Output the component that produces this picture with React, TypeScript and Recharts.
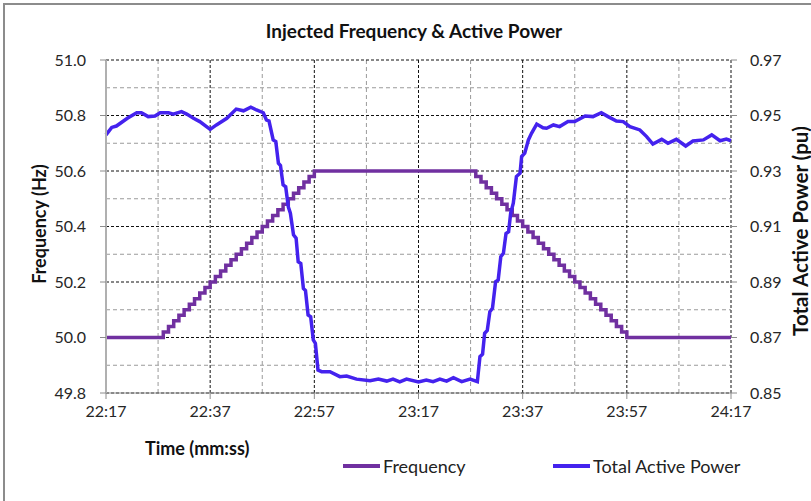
import { CartesianGrid, Line, LineChart, XAxis, YAxis } from "recharts";

// seconds after 22:17
const xTicks = [0, 20, 40, 60, 80, 100, 120];
const xTickLabels = ["22:17", "22:37", "22:57", "23:17", "23:37", "23:57", "24:17"];
const xMinor = [10, 30, 50, 70, 90, 110];

const freqTicks = [49.8, 50.0, 50.2, 50.4, 50.6, 50.8, 51.0];
const freqMinor = [49.9, 50.1, 50.3, 50.5, 50.7, 50.9];
const powerTicks = [0.85, 0.87, 0.89, 0.91, 0.93, 0.95, 0.97];

// injected frequency, one value per second from 22:17
const frequency = [
  50.0, 50.0, 50.0, 50.0, 50.0, 50.0, 50.0, 50.0, 50.0, 50.0, 50.0,
  50.02, 50.04, 50.06, 50.08, 50.1, 50.12, 50.14, 50.16, 50.18, 50.2,
  50.22, 50.24, 50.26, 50.28, 50.3, 50.32, 50.34, 50.36, 50.38, 50.4,
  50.42, 50.44, 50.46, 50.48, 50.5, 50.52, 50.54, 50.56, 50.58, 50.6,
  50.6, 50.6, 50.6, 50.6, 50.6, 50.6, 50.6, 50.6, 50.6, 50.6,
  50.6, 50.6, 50.6, 50.6, 50.6, 50.6, 50.6, 50.6, 50.6, 50.6,
  50.6, 50.6, 50.6, 50.6, 50.6, 50.6, 50.6, 50.6, 50.6, 50.6,
  50.58, 50.56, 50.54, 50.52, 50.5, 50.48, 50.46, 50.44, 50.42, 50.4,
  50.38, 50.36, 50.34, 50.32, 50.3, 50.28, 50.26, 50.24, 50.22, 50.2,
  50.18, 50.16, 50.14, 50.12, 50.1, 50.08, 50.06, 50.04, 50.02, 50.0,
  50.0, 50.0, 50.0, 50.0, 50.0, 50.0, 50.0, 50.0, 50.0, 50.0,
  50.0, 50.0, 50.0, 50.0, 50.0, 50.0, 50.0, 50.0, 50.0, 50.0,
];

const powerTime = [
  0, 1.1, 2, 4.1, 5.9, 6.8, 8.1, 9.4, 10.4, 12, 12.9, 14.5, 15.5, 16.8, 18, 20,
  21.2, 23.2, 25, 26.4, 27.8, 28.9, 30.2, 30.8, 31.3, 32.1, 32.6, 33.1, 33.5, 34,
  34.5, 35, 35.4, 36, 36.5, 36.9, 37.4, 37.9, 38.3, 38.8, 39.3, 39.8, 40.2, 40.7,
  41.4, 43, 44.9, 46.2, 48.1, 50.7, 52.3, 53.9, 55.1, 56.4, 57.7, 60, 61.5, 62.8,
  64.1, 65.4, 66.7, 68.3, 69.9, 71.3, 71.8, 72.3, 72.7, 73.2, 73.7, 74.2, 74.8,
  75.3, 75.8, 76.3, 76.8, 77.3, 77.7, 78.2, 78.8, 79.5, 79.8, 80.4, 81.1, 81.7,
  82.7, 83.9, 84.6, 85.9, 87.1, 88.7, 90, 92, 93.5, 95.1, 96.4, 98, 99.3, 100.6,
  102.5, 103.8, 105, 106.7, 107.9, 109.5, 111.3, 112.7, 114.7, 116.3, 117.9, 119.1, 120,
];
const powerValue = [
  0.943, 0.9457, 0.9462, 0.949, 0.951, 0.951, 0.9496, 0.9498, 0.951, 0.951, 0.9505,
  0.9514, 0.9505, 0.949, 0.9478, 0.945, 0.9466, 0.949, 0.9523, 0.9517, 0.953, 0.952,
  0.951, 0.9484, 0.948, 0.9412, 0.9406, 0.9328, 0.932, 0.925, 0.9243, 0.9171, 0.9148,
  0.907, 0.9058, 0.8973, 0.8967, 0.8877, 0.8869, 0.8781, 0.8775, 0.8691, 0.8679, 0.8583,
  0.8577, 0.8577, 0.8559, 0.8561, 0.855, 0.8544, 0.855, 0.8543, 0.855, 0.854, 0.855,
  0.854, 0.8547, 0.8541, 0.855, 0.8543, 0.8555, 0.8541, 0.855, 0.8541, 0.8631, 0.864,
  0.8715, 0.8725, 0.8793, 0.8805, 0.8901, 0.8907, 0.8991, 0.9003, 0.9075, 0.9081,
  0.9148, 0.9184, 0.928, 0.9292, 0.9352, 0.9364, 0.9412, 0.9436, 0.9469, 0.9456,
  0.9454, 0.9466, 0.946, 0.9478, 0.9478, 0.9498, 0.9496, 0.951, 0.9496, 0.948, 0.9478,
  0.946, 0.9448, 0.9424, 0.9397, 0.9414, 0.94, 0.9414, 0.939, 0.9408, 0.9412, 0.943,
  0.9409, 0.9415, 0.9409,
];

const FREQ_COLOR = "#7030a0";
const POWER_COLOR = "#4422ee";
const FONT = "Lato, 'Open Sans', sans-serif";

const freqData = frequency.map((f, i) => ({ t: i, f }));
const powerData = powerTime.map((t, i) => ({ t, p: powerValue[i] }));

const tickStyle = { fontFamily: FONT, fontSize: 16, fill: "#262626" };

export default function App() {
  return (
    <div style={{ position: "fixed", left: 0, top: 0, width: 811, height: 501, background: "#fff", overflow: "hidden", fontFamily: FONT }}>
      <div style={{ position: "absolute", left: 3, top: 3, width: 840, height: 540, border: "2px solid #8c8c8c" }} />
      <div style={{ position: "absolute", left: 0, width: 828, top: 19, textAlign: "center", fontWeight: 700, fontSize: 19, color: "#111" }}>
        Injected Frequency &amp; Active Power
      </div>
      <LineChart width={811} height={501} margin={{ top: 60, right: 0, bottom: 68, left: 0 }} style={{ position: "absolute", left: 0, top: 0 }}>
        <CartesianGrid horizontalValues={freqMinor} verticalValues={xMinor} stroke="#9a9a9a" strokeDasharray="4 3" />
        <CartesianGrid horizontalValues={freqTicks} verticalValues={xTicks} stroke="#111" strokeDasharray="3 2" />
        <XAxis
          dataKey="t"
          type="number"
          domain={[0, 120]}
          ticks={xTicks}
          tickFormatter={(v) => xTickLabels[xTicks.indexOf(v)] ?? ""}
          height={40}
          tick={tickStyle}
          tickSize={6}
          tickMargin={7}
          stroke="#8c8c8c"
          allowDuplicatedCategory={false}
        />
        <YAxis
          type="number"
          domain={[49.8, 51.0]}
          ticks={freqTicks}
          tickFormatter={(v) => v.toFixed(1)}
          width={106}
          tick={tickStyle}
          tickSize={6}
          tickMargin={14}
          axisLine={{ stroke: "#b0b0b0", strokeWidth: 2 }}
          tickLine={{ stroke: "#8c8c8c" }}
          allowDataOverflow
        />
        <YAxis
          yAxisId="right"
          orientation="right"
          type="number"
          domain={[0.85, 0.97]}
          ticks={powerTicks}
          tickFormatter={(v) => v.toFixed(2)}
          width={80}
          tick={tickStyle}
          tickSize={6}
          tickMargin={13}
          axisLine={false}
          tickLine={{ stroke: "#8c8c8c" }}
          allowDataOverflow
        />
        <Line data={freqData} dataKey="f" name="Frequency" type="stepAfter" stroke={FREQ_COLOR} strokeWidth={3.5} dot={false} isAnimationActive={false} />
        <Line data={powerData} dataKey="p" name="Total Active Power" yAxisId="right" type="linear" stroke={POWER_COLOR} strokeWidth={3.5} dot={false} isAnimationActive={false} />
      </LineChart>
      <div style={{ position: "absolute", left: 39, top: 224, transform: "translate(-50%, -50%) rotate(-90deg)", whiteSpace: "nowrap", fontWeight: 700, fontSize: 18, color: "#111" }}>
        Frequency (Hz)
      </div>
      <div style={{ position: "absolute", left: 800, top: 231, transform: "translate(-50%, -50%) rotate(-90deg)", whiteSpace: "nowrap", fontWeight: 700, fontSize: 20.5, color: "#111" }}>
        Total Active Power (pu)
      </div>
      <div style={{ position: "absolute", left: 145, top: 437, fontWeight: 700, fontSize: 18, color: "#111" }}>Time (mm:ss)</div>
      <div style={{ position: "absolute", left: 343, top: 455, display: "flex", alignItems: "center", fontSize: 18, color: "#222" }}>
        <span style={{ display: "inline-block", width: 37, height: 4, background: FREQ_COLOR, marginRight: 3 }} />
        <span>Frequency</span>
      </div>
      <div style={{ position: "absolute", left: 553, top: 455, display: "flex", alignItems: "center", fontSize: 18, color: "#222" }}>
        <span style={{ display: "inline-block", width: 37, height: 4, background: POWER_COLOR, marginRight: 3 }} />
        <span>Total Active Power</span>
      </div>
    </div>
  );
}
